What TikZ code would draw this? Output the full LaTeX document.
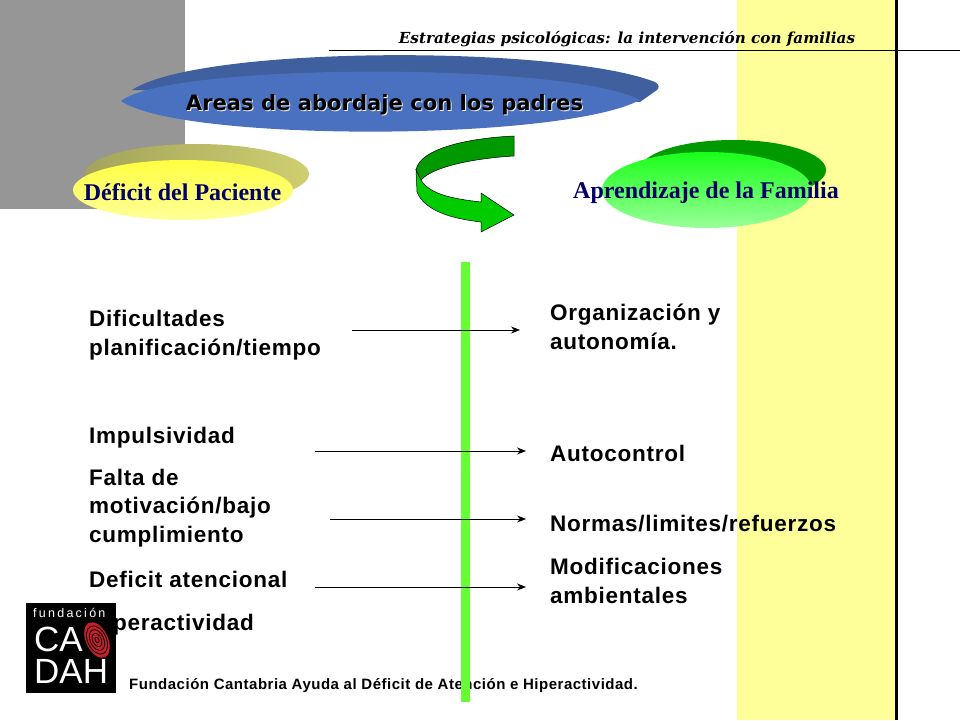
\documentclass[tikz,border=0pt]{standalone}
\usepackage{fontspec}
\setmainfont{Liberation Sans}
\newfontfamily\bodyfont[LetterSpace=3.3]{Liberation Sans}
\newfontfamily\footfont[LetterSpace=3.4]{Liberation Sans}
\newfontfamily\serifbold[BoldFont={Liberation Serif Bold}]{Liberation Serif}
\newfontfamily\headfont{DejaVu Serif}
\newfontfamily\titlefont{DejaVu Sans}
\newfontfamily\logofont[LetterSpace=18]{Liberation Sans}
\usetikzlibrary{arrows.meta, positioning}
\definecolor{sidegray}{HTML}{969696}
\definecolor{sideyellow}{HTML}{FFFF99}
\definecolor{barlime}{HTML}{66FF33}
\definecolor{blueback}{HTML}{3F5F9F}
\definecolor{bluefront}{HTML}{4A71C0}
\definecolor{navytext}{HTML}{000066}
\definecolor{logored}{HTML}{C8202A}
\definecolor{oliveleft}{HTML}{A3A35C}
\definecolor{oliveright}{HTML}{CFCF70}

\begin{document}
\begin{tikzpicture}[
  x=1pt, y=-1pt,
  body/.style={anchor=west, align=left, inner sep=0pt, font=\fontsize{22.5}{28.8}\bodyfont\bfseries},
  oval/.style={font=\fontsize{24}{28}\serifbold\bfseries, text=navytext, inner sep=0pt},
  link/.style={-{Stealth[length=9pt, width=7pt]}, draw=black, line width=0.7pt},
  logotext/.style={text=white, anchor=west, inner sep=0pt}
]
  \useasboundingbox (0,0) rectangle (960,720);

  % Background
  \fill[sidegray] (0,0) rectangle (185,209);
  \fill[sideyellow] (737,0) rectangle (896,720);
  \draw[line width=2.5pt] (896.5,0) -- (896.5,720);
  \draw[line width=0.8pt] (329,50) -- (960,50);
  \node[inner sep=0pt, font=\fontsize{15.2}{18}\headfont\bfseries\itshape] (header) at (627,39) {Estrategias psicológicas: la intervención con familias};

  % Ovals
  \fill[blueback] (132,90) .. controls (200,45) and (560,45) .. (655,82) .. controls (660,85) and (659,88) .. (657,90) -- (640,102) -- cycle;
  \fill[bluefront] (121,101) .. controls (170,62) and (570,62) .. (640,100) .. controls (560,142) and (180,142) .. (121,101) -- cycle;
  \node[inner sep=0pt, text=white!85!gray, font=\fontsize{21.1}{26}\titlefont\bfseries] at (385.5,106) {Areas de abordaje con los padres};
  \node[inner sep=0pt, font=\fontsize{21.1}{26}\titlefont\bfseries] (title) at (384.5,105) {Areas de abordaje con los padres};

  \shade[left color=oliveleft, right color=oliveright] (197,174) ellipse (112 and 30);
  \shade[top color=yellow!75!white, bottom color=sideyellow] (183,190) ellipse (110 and 30);
  \node[oval] (deficit) at (182.5,192) {Déficit del Paciente};

  \fill[green!60!black] (733,170) ellipse (93 and 30);
  \shade[top color=green!90!white, bottom color=green!40!white] (707,190) ellipse (105 and 38);
  \node[oval] (familia) at (706,193) {Aprendizaje de la Familia};

  % Curved arrow
  \filldraw[fill=green!60!black, draw=black, line width=0.5pt] (514,136) .. controls (470,138) and (420,148) .. (416,170) -- (421,180) .. controls (435,165) and (480,158) .. (514,156) -- cycle;
  \filldraw[fill=green!80!black, draw=black, line width=0.5pt] (416,170) -- (417,192) .. controls (425,212) and (455,219) .. (481,222) -- (481,232) -- (514,215) -- (481,193) -- (481,202) .. controls (455,199) and (430,195) .. (421,180) -- cycle;

  % Left column
  \node[body] (dificultades) at (89,335) {Dificultades\\planificación/tiempo};
  \node[body] (impulsividad) at (89,438) {Impulsividad};
  \node[body] (falta) at (89,508) {Falta de\\motivación/bajo\\cumplimiento};
  \node[body] (atencional) at (89,579) {Deficit atencional};
  \node[body] (hiper) at (89,625) {Hiperactividad};

  % Right column
  \node[body] (organizacion) at (550,327) {Organización y\\autonomía.};
  \node[body] (autocontrol) at (550,453) {Autocontrol};
  \node[body] (normas) at (550,524) {Normas/limites/refuerzos};
  \node[body] (ambiente) at (550,581) {Modificaciones\\ambientales};

  % Footer and bar
  \node[inner sep=0pt, font=\fontsize{15}{18}\footfont\bfseries] (footer) at (383.5,686) {Fundación Cantabria Ayuda al Déficit de Atención e Hiperactividad.};
  \fill[barlime] (461,262) rectangle (470,702);

  % Arrows
  \coordinate (a1) at (352,330);
  \coordinate (b1) at (520,330);
  \coordinate (a2) at (315,451);
  \coordinate (b2) at (526,451);
  \coordinate (a3) at (330,519);
  \coordinate (b3) at (526,519);
  \coordinate (a4) at (315,587);
  \coordinate (b4) at (526,587);
  \draw[link] (a1) -- (b1);
  \draw[link] (a2) -- (b2);
  \draw[link] (a3) -- (b3);
  \draw[link] (a4) -- (b4);

  % Logo
  \fill[black] (26,603) rectangle (116,693);
  \node[logotext, font=\fontsize{12.5}{14}\logofont] (fund) at (33,613) {fundación};
  \node[logotext, font=\fontsize{35}{40}\selectfont] (ca) at (34,639) {CA};
  \node[logotext, font=\fontsize{35}{40}\selectfont] (dah) at (34,671) {DAH};
  \fill[logored, rotate around={25:(97,640)}] (97,640) ellipse (11 and 19);
  \foreach \r in {3,7,11,15}
    \draw[black, line width=0.8pt, rotate around={25:(97,640)}] (97,640) ellipse ({\r*0.62} and \r);
\end{tikzpicture}
\end{document}
